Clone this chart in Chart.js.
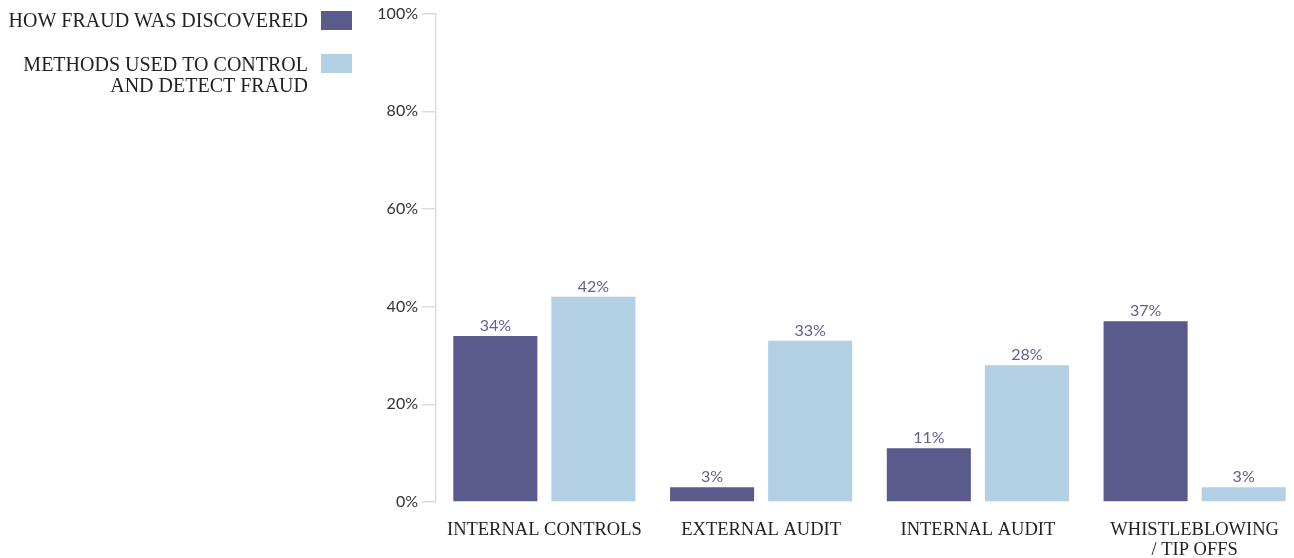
<!DOCTYPE html>
<html><head><meta charset="utf-8">
<script src="https://cdn.jsdelivr.net/npm/chart.js@4/dist/chart.umd.min.js"></script>
<style>
html,body{margin:0;padding:0;background:#fff;overflow:hidden;width:1294px;height:558px;}
#wrap{position:absolute;left:0;top:0;width:1303px;height:558px;}
</style></head><body>
<div id="wrap"><canvas id="c" width="1303" height="558"></canvas></div>
<script>
const categories = [["INTERNAL CONTROLS"], ["EXTERNAL AUDIT"], ["INTERNAL AUDIT"], ["WHISTLEBLOWING", "/ TIP OFFS"]];
const discovered = [34, 3, 11, 37];
const methods = [42, 33, 28, 3];
const seriesNames = ["HOW FRAUD WAS DISCOVERED", ["METHODS USED TO CONTROL", "AND DETECT FRAUD"]];
const yTicks = [0, 20, 40, 60, 80, 100];

const DARK = '#5a5a8c', LIGHT = '#b3cfe3';
const SERIF = '"Liberation Serif", "DejaVu Serif", serif';
const SANS = 'Lato, "Open Sans", sans-serif';

const valueLabels = {
  id: 'valueLabels',
  afterDatasetsDraw(chart) {
    const ctx = chart.ctx;
    ctx.save();
    ctx.font = '16px ' + SANS;
    ctx.fillStyle = '#5f5f94';
    ctx.textAlign = 'center';
    ctx.textBaseline = 'alphabetic';
    chart.data.datasets.forEach((ds, i) => {
      chart.getDatasetMeta(i).data.forEach((bar, j) => {
        ctx.fillText(ds.data[j] + '%', bar.x, bar.y - 5);
      });
    });
    ctx.restore();
  }
};

const sideLegend = {
  id: 'sideLegend',
  afterDraw(chart) {
    const ctx = chart.ctx;
    ctx.save();
    ctx.font = '20px ' + SERIF;
    ctx.fillStyle = '#222';
    ctx.textAlign = 'right';
    ctx.textBaseline = 'middle';
    ctx.fillText(seriesNames[0], 308, 22);
    ctx.fillText(seriesNames[1][0], 308, 66);
    ctx.fillText(seriesNames[1][1], 308, 87);
    ctx.fillStyle = DARK;
    ctx.fillRect(321, 11, 31, 19);
    ctx.fillStyle = LIGHT;
    ctx.fillRect(321, 54, 31, 19);
    ctx.restore();
  }
};

new Chart(document.getElementById('c'), {
  type: 'bar',
  data: {
    labels: categories,
    datasets: [
      { label: 'HOW FRAUD WAS DISCOVERED', data: discovered, backgroundColor: DARK },
      { label: 'METHODS USED TO CONTROL AND DETECT FRAUD', data: methods, backgroundColor: LIGHT }
    ]
  },
  options: {
    responsive: false,
    animation: false,
    layout: { padding: { top: 10, left: 0, right: 0, bottom: 0 } },
    plugins: { legend: { display: false }, tooltip: { enabled: false } },
    datasets: { bar: { categoryPercentage: 0.905, barPercentage: 0.857 } },
    scales: {
      x: {
        grid: { display: false },
        border: { display: false },
        ticks: { color: '#222', font: { family: SERIF, size: 18.5, lineHeight: 1.1 }, padding: 10, maxRotation: 0, autoSkip: false },
        afterFit(s) { s.height = 56; }
      },
      y: {
        min: 0, max: 100,
        afterBuildTicks(s) { s.ticks = yTicks.map(v => ({ value: v })); },
        grid: { drawOnChartArea: false, color: '#ddddd8', tickLength: 14, lineWidth: 1.5 },
        border: { color: '#ddddd8', width: 1.5 },
        ticks: { color: '#333', font: { family: SANS, size: 16 }, padding: 4, callback: v => v + '%' },
        afterFit(s) { s.width = 436; }
      }
    }
  },
  plugins: [valueLabels, sideLegend]
});
</script>
</body></html>
